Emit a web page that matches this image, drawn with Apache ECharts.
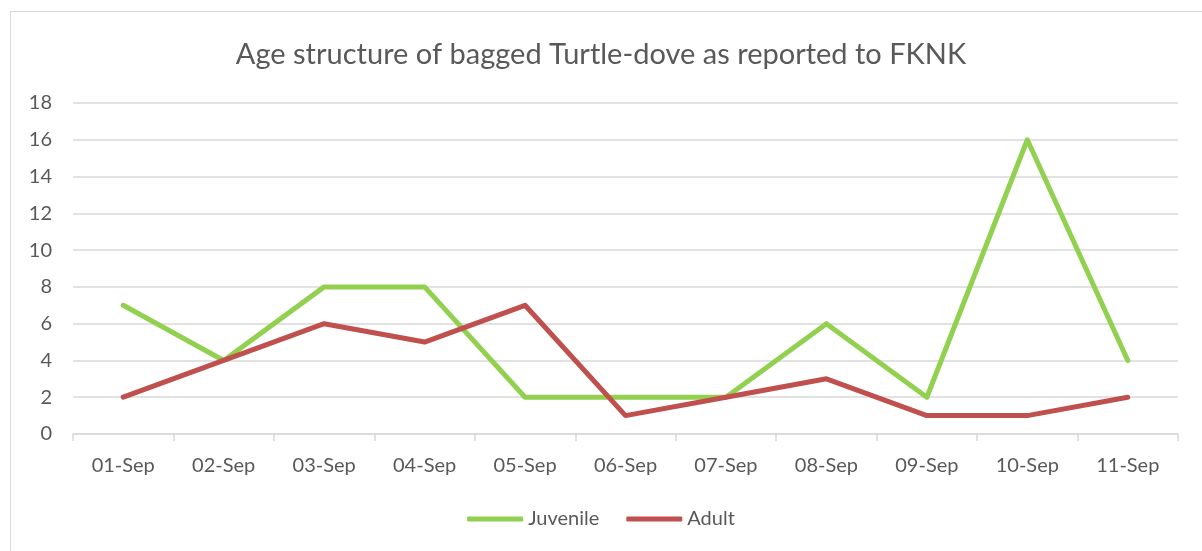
<!DOCTYPE html>
<html><head><meta charset="utf-8">
<script src="https://cdn.jsdelivr.net/npm/echarts@6/dist/echarts.min.js"></script>
<style>
html,body{margin:0;padding:0;background:#fff;width:1202px;height:551px;overflow:hidden;}
#frame{position:absolute;left:10px;top:11px;width:1200px;height:560px;border:1px solid #d9d9d9;box-sizing:border-box;}
#c{position:absolute;left:0;top:0;width:1202px;height:551px;}
</style></head><body>
<div id="frame"></div>
<div id="c"></div>
<script>
const categories = ['01-Sep','02-Sep','03-Sep','04-Sep','05-Sep','06-Sep','07-Sep','08-Sep','09-Sep','10-Sep','11-Sep'];
const juvenile = [7,4,8,8,2,2,2,6,2,16,4];
const adult = [2,4,6,5,7,1,2,3,1,1,2];
const yTicks = {min:0, max:18, interval:2};

const chart = echarts.init(document.getElementById('c'));
const font = 'Lato, "Open Sans", sans-serif';
chart.setOption({
  animation:false,
  title:{text:'Age structure of bagged Turtle-dove as reported to FKNK', left:'center', top:35,
    textStyle:{fontFamily:font, fontSize:29, fontWeight:'normal', color:'#595959'}},
  legend:{bottom:17, left:'center', itemWidth:56, itemHeight:5, itemGap:27,
    textStyle:{fontFamily:font, fontSize:20, color:'#595959'},
    icon:'roundRect',
    data:['Juvenile','Adult']},
  grid:{left:73, right:24, top:103, bottom:117},
  xAxis:{type:'category', data:categories, boundaryGap:true,
    axisLine:{lineStyle:{color:'#d9d9d9', width:1.5}},
    axisTick:{show:true, length:7, lineStyle:{color:'#d9d9d9', width:1.5}},
    axisLabel:{fontFamily:font, fontSize:20, color:'#595959', margin:22}},
  yAxis:{type:'value', min:yTicks.min, max:yTicks.max, interval:yTicks.interval,
    axisLine:{show:false}, axisTick:{show:false},
    splitLine:{lineStyle:{color:'#d9d9d9', width:1.5}},
    axisLabel:{fontFamily:font, fontSize:20, color:'#595959', margin:21}},
  series:[
    {name:'Juvenile', type:'line', data:juvenile, symbol:'none', lineStyle:{color:'#92D050', width:5, cap:'round', join:'round'}, itemStyle:{color:'#92D050'}},
    {name:'Adult', type:'line', data:adult, symbol:'none', lineStyle:{color:'#C0504D', width:5, cap:'round', join:'round'}, itemStyle:{color:'#C0504D'}}
  ]
});
</script>
</body></html>
